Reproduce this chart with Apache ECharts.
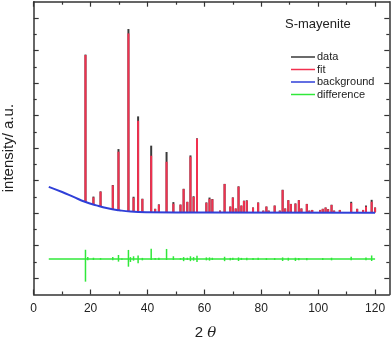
<!DOCTYPE html>
<html>
<head>
<meta charset="utf-8">
<script src="https://cdn.jsdelivr.net/npm/echarts@6/dist/echarts.min.js"></script>
<style>
  html, body { margin: 0; padding: 0; background: #fff; }
  #main { width: 392px; height: 340px; }
</style>
</head>
<body>
<div id="main"></div>
<script>
// peak positions (2 theta)
var peakPos = [18.2, 21.0, 23.5, 27.8, 29.8, 33.3, 35.1, 36.7, 38.2, 41.3, 42.7, 44.0, 46.7, 49.1, 51.6, 52.7,
  54.0, 55.1, 56.2, 57.4, 60.7, 61.8, 62.8, 65.5, 67.1, 69.1, 70.0, 71.0, 72.0, 73.0, 73.9, 74.9, 77.1, 78.9,
  80.7, 81.8, 82.6, 84.7, 86.5, 87.5, 88.4, 89.5, 90.4, 92.0, 93.2, 94.1, 96.0, 96.9, 97.9, 100.7, 101.6,
  102.6, 103.5, 104.7, 105.6, 107.6, 111.6, 113.7, 115.8, 116.8, 118.8, 120.0];
// background level under each peak
var peakBase = [5.69, 5.53, 5.41, 5.24, 5.18, 5.11, 5.09, 5.08, 5.07, 5.05, 5.05, 5.05, 5.05, 5.05, 5.05, 5.05,
  5.05, 5.05, 5.05, 5.05, 5.05, 5.05, 5.05, 5.05, 5.05, 5.05, 5.05, 5.05, 5.05, 5.05, 5.05, 5.05, 5.05, 5.05,
  5.05, 5.05, 5.05, 5.05, 5.05, 5.05, 5.05, 5.05, 5.05, 5.05, 5.05, 5.05, 5.05, 5.05, 5.05, 5.05, 5.05,
  5.05, 5.05, 5.05, 5.05, 5.05, 5.05, 5.05, 5.05, 5.05, 5.05, 5.05];
// observed intensity at peak top
var dataTop = [14.75, 6.02, 6.34, 6.73, 8.94, 16.32, 6.01, 10.95, 5.89, 9.15, 5.27, 5.54, 8.76, 5.68, 5.53, 6.5,
  5.7, 8.55, 6.04, 9.6, 5.66, 5.96, 5.87, 5.16, 6.8, 5.41, 5.97, 5.29, 6.65, 5.47, 5.77, 5.79, 5.35, 5.66,
  5.16, 5.41, 5.16, 5.47, 5.16, 6.44, 5.29, 5.8, 5.57, 5.6, 5.8, 5.29, 5.57, 5.16, 5.2, 5.2, 5.27,
  5.35, 5.25, 5.52, 5.16, 5.2, 5.7, 5.27, 5.2, 5.47, 5.82, 5.35];
// calculated intensity at peak top
var fitTop = [14.72, 5.97, 6.32, 6.71, 8.78, 16.05, 5.95, 10.68, 5.87, 8.53, 5.26, 5.52, 8.16, 5.58, 5.52, 6.48,
  5.69, 8.47, 6.0, 9.58, 5.64, 5.88, 5.85, 5.15, 6.79, 5.4, 5.95, 5.28, 6.63, 5.46, 5.75, 5.77, 5.34, 5.64,
  5.15, 5.4, 5.15, 5.46, 5.15, 6.42, 5.28, 5.79, 5.56, 5.58, 5.79, 5.28, 5.56, 5.15, 5.19, 5.19, 5.26,
  5.34, 5.24, 5.5, 5.15, 5.19, 5.62, 5.26, 5.19, 5.4, 5.7, 5.34];
// background curve
var bgX = [5.3, 10, 14, 18, 22, 26, 30, 34, 40, 60, 120];
var bgY = [6.62, 6.3, 6.0, 5.7, 5.48, 5.3, 5.18, 5.1, 5.06, 5.04, 5.03];
// difference curve
var diffLineX = [5.3, 120];
var diffLineY = [2.18, 2.18];
var diffPos = [18.2, 19.0, 21.0, 23.5, 27.8, 29.8, 31.0, 33.3, 34.0, 35.1, 36.7, 38.2, 41.3, 42.7, 44.0, 46.7,
  49.1, 51.6, 52.7, 54.0, 55.1, 56.2, 57.4, 60.7, 61.8, 62.8, 67.1, 69.1, 70.0, 72.0, 73.0, 74.9, 77.1,
  78.9, 81.8, 84.7, 87.5, 89.5, 92.0, 93.2, 96.0, 101.6, 104.7, 111.6, 116.8, 118.8];
var diffLow = [0.79, 2.1, 2.12, 2.14, 2.1, 2.02, 2.14, 1.71, 2.0, 2.08, 1.92, 2.1, 2.12, 2.14, 2.12, 2.12,
  2.12, 2.14, 2.05, 2.12, 2.05, 2.08, 2.0, 2.1, 2.08, 2.12, 2.05, 2.1, 2.12, 2.06, 2.12, 2.1, 2.12,
  2.12, 2.12, 2.12, 2.06, 2.08, 2.06, 2.1, 2.1, 2.12, 2.1, 2.1, 2.1, 2.06];
var diffHigh = [2.75, 2.3, 2.26, 2.24, 2.3, 2.43, 2.22, 2.74, 2.3, 2.35, 2.4, 2.25, 2.82, 2.24, 2.26, 2.8,
  2.35, 2.24, 2.3, 2.26, 2.35, 2.3, 2.38, 2.28, 2.28, 2.26, 2.32, 2.25, 2.26, 2.28, 2.25, 2.26, 2.24,
  2.26, 2.24, 2.24, 2.28, 2.26, 2.26, 2.24, 2.24, 2.24, 2.26, 2.32, 2.28, 2.4];
// tick values
var xMajor = [0, 20, 40, 60, 80, 100, 120];
var xMinor = [10, 30, 50, 70, 90, 110];
var yMajor = [1, 3, 5, 7, 9, 11, 13, 15, 17];
var yMinor = [2, 4, 6, 8, 10, 12, 14, 16];

(function(win){
  var chart = echarts.init(document.getElementById('main'), null, {renderer: 'canvas'});
  var font = '"Liberation Sans", Arial, sans-serif';
  var frameColor = '#333';

  //one axis with ticks at given values only
  function makeAxis(dim, pos, ticks, len, withLine) {
    return {
      type: 'value',
      position: pos,
      min: 0,
      max: dim === 'x' ? 125 : 18,
      axisLine: { show: withLine, onZero: false, lineStyle: { color: frameColor, width: 1.5 } },
      axisTick: { show: true, inside: true, length: len, customValues: ticks,
        lineStyle: { color: frameColor, width: 1.2 } },
      axisLabel: { show: false },
      splitLine: { show: false }
    };
  }

  var xAxes = [
    makeAxis('x', 'bottom', xMajor, 5, true),
    makeAxis('x', 'bottom', xMinor, 3, false),
    makeAxis('x', 'top', xMajor, 5, true),
    makeAxis('x', 'top', xMinor, 3, false)
  ];
  xAxes[0].axisLabel = { show: true, customValues: xMajor, margin: 8, color: '#222', fontSize: 12, fontFamily: font };
  xAxes[0].name = '2 {t|θ}';
  xAxes[0].nameLocation = 'middle';
  xAxes[0].nameGap = 31;
  xAxes[0].nameTextStyle = { color: '#222', fontSize: 15, fontFamily: font, padding: [0, 12, 0, 0],
    rich: { t: { fontStyle: 'italic', fontSize: 15, fontFamily: '"DejaVu Serif", serif', color: '#222' } } };

  var yAxes = [
    makeAxis('y', 'left', yMajor, 5, true),
    makeAxis('y', 'left', yMinor, 3, false),
    makeAxis('y', 'right', yMajor, 5, true),
    makeAxis('y', 'right', yMinor, 3, false)
  ];
  yAxes[0].name = 'intensity/ a.u.';
  yAxes[0].nameLocation = 'middle';
  yAxes[0].nameGap = 17;
  yAxes[0].nameTextStyle = { color: '#222', fontSize: 15, fontFamily: font };

  //vertical spike from value(1) to value(2)
  function spikeRender(color, width) {
    return function(params, api) {
      var p0 = api.coord([api.value(0), api.value(1)]);
      var p1 = api.coord([api.value(0), api.value(2)]);
      return {
        type: 'line',
        shape: { x1: p0[0], y1: p0[1], x2: p1[0], y2: p1[1] },
        style: { stroke: color, lineWidth: width }
      };
    };
  }

  var dataSpikes = peakPos.map(function(p, i){ return [p, peakBase[i], dataTop[i]]; });
  var fitSpikes = peakPos.map(function(p, i){ return [p, peakBase[i], fitTop[i]]; });
  var diffSpikes = diffPos.map(function(p, i){ return [p, diffLow[i], diffHigh[i]]; });
  var bgLine = bgX.map(function(x, i){ return [x, bgY[i]]; });
  var diffLine = diffLineX.map(function(x, i){ return [x, diffLineY[i]]; });

  var colors = { data: '#3a3a3a', fit: '#f2304f', background: '#2f3fd8', difference: '#30e83a' };

  var option = {
    backgroundColor: '#fff',
    animation: false,
    grid: { left: 33.7, right: 2.7, top: 1.7, bottom: 45.5, containLabel: false, outerBoundsMode: 'none' },
    xAxis: xAxes,
    yAxis: yAxes,
    graphic: [{
      type: 'text', left: 285, top: 18,
      style: { text: 'S-mayenite', fill: '#222', fontSize: 13, fontFamily: font }
    }],
    legend: {
      orient: 'vertical', left: 286, top: 46,
      itemWidth: 24, itemHeight: 1.5, itemGap: 0.5, icon: 'rect',
      textStyle: { color: '#222', fontSize: 11, fontFamily: font, padding: [0, 0, 0, -3], lineHeight: 12 },
      data: ['data', 'fit', 'background', 'difference']
    },
    series: [
      {
        name: 'data', type: 'custom', renderItem: spikeRender(colors.data, 2),
        itemStyle: { color: colors.data }, encode: { x: 0, y: [1, 2] }, data: dataSpikes, z: 1
      },
      {
        name: 'fit', type: 'custom', renderItem: spikeRender(colors.fit, 2),
        itemStyle: { color: colors.fit }, encode: { x: 0, y: [1, 2] }, data: fitSpikes, z: 2
      },
      {
        name: 'background', type: 'line', smooth: true, showSymbol: false, symbol: 'none',
        lineStyle: { color: colors.background, width: 2 }, itemStyle: { color: colors.background },
        data: bgLine, z: 3
      },
      {
        name: 'difference', type: 'line', showSymbol: false, symbol: 'none',
        lineStyle: { color: colors.difference, width: 1.5 }, itemStyle: { color: colors.difference },
        data: diffLine, z: 3
      },
      {
        name: 'difference', type: 'custom', renderItem: spikeRender(colors.difference, 1.5),
        itemStyle: { color: colors.difference }, encode: { x: 0, y: [1, 2] }, data: diffSpikes, z: 3
      }
    ]
  };
  chart.setOption(option);
  win.xrdChart = chart;
}(window));
</script>
</body>
</html>
